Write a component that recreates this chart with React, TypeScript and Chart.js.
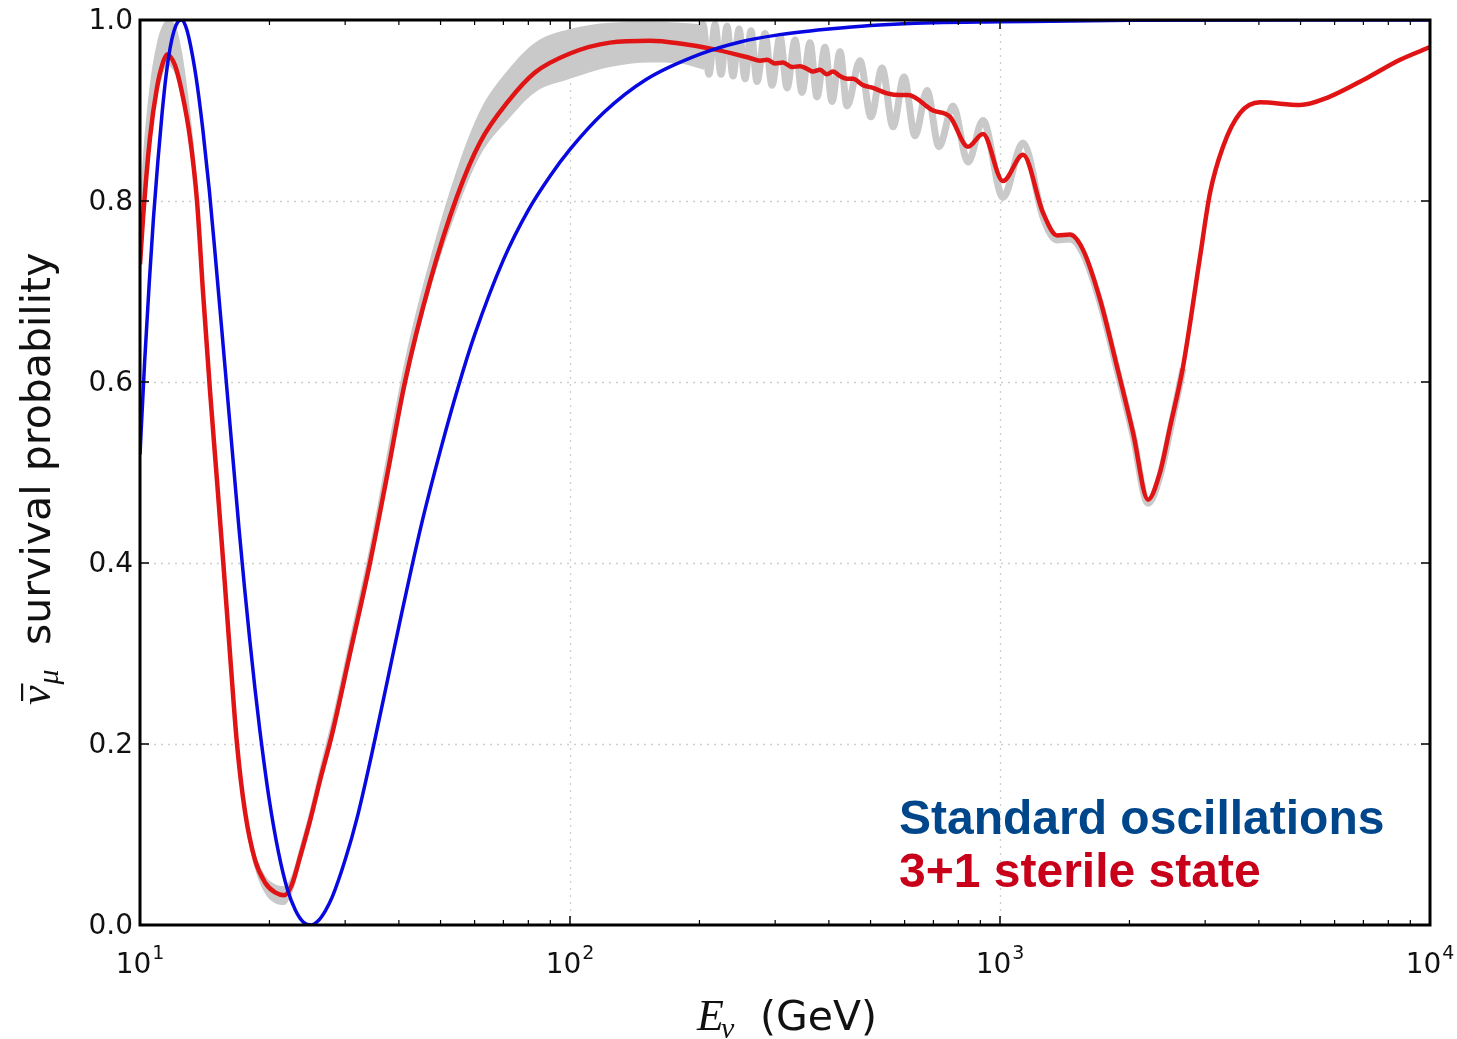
import React, { useEffect, useRef } from "react";
import { Chart, registerables } from "chart.js";

Chart.register(...registerables);

// ---------- data ----------
// Standard oscillations (blue)
const stdEnergy = [10, 10.25, 10.5, 10.75, 11, 11.25, 11.5, 11.75, 12, 12.25, 12.5, 12.75, 13, 13.5, 14, 14.5, 15, 15.5, 16, 16.5, 17, 17.5, 18, 18.5, 19, 20, 21, 22, 23, 24, 25, 26, 27, 28, 30, 32, 35, 38, 40, 45, 50, 55, 60, 70, 80, 90, 100, 120, 150, 200, 250, 300, 400, 500, 700, 1000, 2000, 5000, 10000];
const stdProb = [0.52, 0.622, 0.707, 0.782, 0.843, 0.896, 0.939, 0.969, 0.988, 0.998, 1.0, 0.994, 0.98, 0.937, 0.879, 0.811, 0.734, 0.657, 0.581, 0.508, 0.437, 0.373, 0.315, 0.262, 0.215, 0.137, 0.08, 0.04, 0.016, 0.003, 0.0, 0.005, 0.016, 0.031, 0.072, 0.119, 0.2, 0.28, 0.33, 0.44, 0.525, 0.595, 0.652, 0.735, 0.79, 0.828, 0.857, 0.898, 0.934, 0.962, 0.976, 0.983, 0.99, 0.994, 0.997, 0.998, 0.9996, 1.0, 1.0];

// 3+1 sterile state (red, averaged)
const sterileEnergy = [10, 10.16, 10.55, 10.95, 11.31, 11.56, 12.06, 12.52, 13.07, 13.57, 14.01, 14.55, 15.11, 15.68, 16.19, 16.81, 17.55, 18.51, 19.53, 20.61, 21.63, 22.57, 23.55, 24.85, 26.22, 28.1, 30.78, 34.26, 37.5, 41.33, 47.2, 54.6, 61.8, 71.8, 82.9, 100, 123.9, 153.5, 180.3, 219.8, 262.2, 276.6, 287.2, 299.8, 312.8, 328.4, 342.6, 355.8, 367.4, 381.4, 396, 408.9, 424.6, 440.8, 455.1, 480.2, 506.7, 546.1, 585.4, 611, 698.6, 765.3, 842.5, 912.9, 1016, 1131, 1259, 1357, 1455, 1560, 1709, 1871, 2039, 2209, 2355, 2485, 2665, 2918, 3079, 3301, 3615, 4024, 4986, 5762, 7137, 8518, 10000];
const sterileProb = [0.73, 0.78, 0.87, 0.925, 0.953, 0.962, 0.95, 0.92, 0.87, 0.8, 0.7, 0.59, 0.49, 0.39, 0.3, 0.2, 0.125, 0.072, 0.047, 0.036, 0.033, 0.045, 0.075, 0.115, 0.16, 0.215, 0.3, 0.4, 0.495, 0.6, 0.71, 0.805, 0.865, 0.91, 0.942, 0.963, 0.975, 0.977, 0.974, 0.967, 0.958, 0.955, 0.956, 0.952, 0.953, 0.948, 0.949, 0.946, 0.943, 0.945, 0.94, 0.943, 0.938, 0.935, 0.935, 0.928, 0.925, 0.919, 0.917, 0.917, 0.9, 0.893, 0.86, 0.874, 0.822, 0.851, 0.787, 0.762, 0.763, 0.746, 0.691, 0.617, 0.544, 0.47, 0.5, 0.55, 0.617, 0.738, 0.809, 0.86, 0.897, 0.909, 0.906, 0.914, 0.936, 0.956, 0.97];

// Gray band: envelope of the unaveraged fast oscillations at low energy
const bandEnergy = [10, 10.16, 10.55, 10.95, 11.31, 11.56, 12.06, 12.52, 13.07, 13.57, 14.01, 14.55, 15.11, 15.68, 16.19, 16.81, 17.55, 18.51, 19.53, 20.61, 21.63, 22.57, 23.55, 24.85, 26.22, 28.1, 30.78, 34.26, 37.5, 41.33, 47.2, 54.6, 61.8, 71.8, 82.9, 100, 123.9, 153.5, 180.3, 205];
const bandUpper = [0.8, 0.85, 0.93, 0.975, 0.995, 1.0, 0.995, 0.965, 0.9, 0.82, 0.71, 0.6, 0.5, 0.4, 0.31, 0.21, 0.135, 0.08, 0.055, 0.045, 0.043, 0.056, 0.087, 0.128, 0.175, 0.232, 0.318, 0.42, 0.52, 0.625, 0.735, 0.835, 0.9, 0.945, 0.975, 0.99, 0.997, 0.998, 0.997, 0.995];
const bandLower = [0.7, 0.75, 0.855, 0.912, 0.94, 0.95, 0.94, 0.91, 0.86, 0.79, 0.69, 0.58, 0.48, 0.38, 0.29, 0.19, 0.115, 0.062, 0.035, 0.024, 0.022, 0.035, 0.065, 0.105, 0.15, 0.205, 0.29, 0.39, 0.49, 0.59, 0.7, 0.79, 0.85, 0.89, 0.92, 0.935, 0.948, 0.953, 0.952, 0.945];

// Gray line: unaveraged sterile curve where the wiggles are resolved
const fastEnergy = [200.6, 203.9, 210.5, 217.4, 224.5, 231.8, 239.4, 247.2, 255.3, 263.6, 272.2, 284.1, 295, 307.9, 319.7, 333.7, 346.3, 361.5, 375.3, 391.7, 406.7, 424.6, 440.8, 472.5, 501.2, 531.7, 564, 598.1, 634.4, 676.5, 721.3, 777.7, 842.5, 912.9, 1016, 1131, 1259, 1357, 1455, 1560, 1709, 1871, 2039, 2209, 2355, 2485, 2665];
const fastProb = [0.967, 0.995, 0.94, 0.995, 0.94, 0.993, 0.938, 0.99, 0.935, 0.988, 0.932, 0.985, 0.928, 0.982, 0.925, 0.978, 0.92, 0.975, 0.915, 0.97, 0.91, 0.965, 0.905, 0.955, 0.893, 0.947, 0.882, 0.937, 0.872, 0.922, 0.86, 0.905, 0.843, 0.889, 0.804, 0.864, 0.782, 0.757, 0.758, 0.742, 0.688, 0.614, 0.541, 0.466, 0.496, 0.546, 0.615];

// Axes
const yTickValues = [0, 0.2, 0.4, 0.6, 0.8, 1.0];
const yTickLabels = ["0.0", "0.2", "0.4", "0.6", "0.8", "1.0"];
const xTickValues = [10, 100, 1000, 10000];
const xTickExponents = ["1", "2", "3", "4"];
const xMinorFactors = [2, 3, 4, 5, 6, 7, 8, 9];
const gridYValues = [0.2, 0.4, 0.6, 0.8];
const gridXValues = [100, 1000];

const legendLines = ["Standard oscillations", "3+1 sterile state"];

const W = 1457;
const H = 1039;

const pts = (xs: number[], ys: number[]) => xs.map((x, i) => ({ x, y: ys[i] }));

const overlayPlugin = {
  id: "overlay",
  beforeDatasetsDraw(chart: any) {
    const { ctx, chartArea: a, scales } = chart;
    const xs = scales.x;
    const ys = scales.y;
    ctx.save();
    ctx.strokeStyle = "#cdcdcd";
    ctx.lineWidth = 1.3;
    ctx.setLineDash([2, 5]);
    for (const v of gridYValues) {
      const y = Math.round(ys.getPixelForValue(v)) + 0.5;
      ctx.beginPath();
      ctx.moveTo(a.left, y);
      ctx.lineTo(a.right, y);
      ctx.stroke();
    }
    for (const v of gridXValues) {
      const x = Math.round(xs.getPixelForValue(v)) + 0.5;
      ctx.beginPath();
      ctx.moveTo(x, a.top);
      ctx.lineTo(x, a.bottom);
      ctx.stroke();
    }
    ctx.restore();
  },
  afterDatasetsDraw(chart: any) {
    const { ctx, chartArea: a, scales } = chart;
    const xs = scales.x;
    const ys = scales.y;
    ctx.save();
    ctx.setLineDash([]);
    // ticks
    ctx.strokeStyle = "#000";
    ctx.lineWidth = 1.5;
    const major = 9;
    const minor = 5;
    for (const v of yTickValues) {
      const y = ys.getPixelForValue(v);
      ctx.beginPath();
      ctx.moveTo(a.left, y);
      ctx.lineTo(a.left + major, y);
      ctx.moveTo(a.right, y);
      ctx.lineTo(a.right - major, y);
      ctx.stroke();
    }
    for (const v of xTickValues) {
      const x = xs.getPixelForValue(v);
      ctx.beginPath();
      ctx.moveTo(x, a.bottom);
      ctx.lineTo(x, a.bottom - major);
      ctx.moveTo(x, a.top);
      ctx.lineTo(x, a.top + major);
      ctx.stroke();
    }
    ctx.lineWidth = 1.2;
    for (const d of xTickValues.slice(0, 3)) {
      for (const f of xMinorFactors) {
        const x = xs.getPixelForValue(d * f);
        ctx.beginPath();
        ctx.moveTo(x, a.bottom);
        ctx.lineTo(x, a.bottom - minor);
        ctx.moveTo(x, a.top);
        ctx.lineTo(x, a.top + minor);
        ctx.stroke();
      }
    }
    // frame
    ctx.lineWidth = 3;
    ctx.strokeRect(a.left, a.top, a.right - a.left, a.bottom - a.top);

    // y tick labels
    ctx.fillStyle = "#111";
    ctx.font = '28px "DejaVu Sans"';
    ctx.textAlign = "right";
    ctx.textBaseline = "middle";
    yTickValues.forEach((v, i) => {
      ctx.fillText(yTickLabels[i], a.left - 7, ys.getPixelForValue(v) + 2);
    });

    // x tick labels 10^n
    ctx.textAlign = "left";
    ctx.textBaseline = "alphabetic";
    xTickValues.forEach((v, i) => {
      const x = xs.getPixelForValue(v);
      ctx.font = '28px "DejaVu Sans"';
      const wb = ctx.measureText("10").width;
      ctx.font = '19px "DejaVu Sans"';
      const we = ctx.measureText(xTickExponents[i]).width;
      const start = x - (wb + we + 1) / 2;
      ctx.font = '28px "DejaVu Sans"';
      ctx.fillText("10", start, a.bottom + 48);
      ctx.font = '19px "DejaVu Sans"';
      ctx.fillText(xTickExponents[i], start + wb + 1, a.bottom + 34);
    });

    // x axis title: E_ν (GeV)
    ctx.font = 'italic 44px "Liberation Serif"';
    ctx.fillText("E", 697, 1030);
    const wE = ctx.measureText("E").width;
    ctx.font = 'italic 30px "Liberation Serif"';
    ctx.fillText("ν", 697 + wE - 3, 1038);
    ctx.font = '41px "DejaVu Sans"';
    ctx.fillText("(GeV)", 760, 1030);

    // y axis title: ν̄_μ survival probability (rotated)
    ctx.save();
    ctx.translate(50, 705);
    ctx.rotate(-Math.PI / 2);
    ctx.font = 'italic 44px "Liberation Serif"';
    ctx.fillText("ν", 0, 0);
    const wn = ctx.measureText("ν").width;
    ctx.fillRect(4, -29, wn - 2, 2.2);
    ctx.font = 'italic 30px "Liberation Serif"';
    ctx.fillText("μ", wn + 1, 8);
    ctx.font = '41px "DejaVu Sans"';
    ctx.fillText("survival probability", 60, 0);
    ctx.restore();

    // legend text
    ctx.font = 'bold 48px "Liberation Sans"';
    ctx.fillStyle = "#00468b";
    ctx.fillText(legendLines[0], 899, 834);
    ctx.fillStyle = "#c8001a";
    ctx.fillText(legendLines[1], 899, 887);
    ctx.restore();
  },
};

export default function App() {
  const ref = useRef<HTMLCanvasElement>(null);
  useEffect(() => {
    const canvas = ref.current;
    if (!canvas) return;
    const gray = "#c9c9c9";
    const chart = new Chart(canvas, {
      type: "line",
      data: {
        datasets: [
          {
            label: "Standard oscillations",
            data: pts(stdEnergy, stdProb),
            borderColor: "#0808e0",
            borderWidth: 3.5,
            pointRadius: 0,
            cubicInterpolationMode: "monotone",
            order: 0,
            fill: false,
          },
          {
            label: "3+1 sterile state",
            data: pts(sterileEnergy, sterileProb),
            borderColor: "#e01414",
            borderWidth: 4.5,
            pointRadius: 0,
            cubicInterpolationMode: "monotone",
            order: 1,
            fill: false,
          },
          {
            label: "fast",
            data: pts(fastEnergy, fastProb),
            borderColor: gray,
            borderWidth: 7,
            pointRadius: 0,
            cubicInterpolationMode: "monotone",
            order: 2,
            fill: false,
          },
          {
            label: "band lower",
            data: pts(bandEnergy, bandLower),
            borderColor: gray,
            borderWidth: 0,
            pointRadius: 0,
            cubicInterpolationMode: "monotone",
            order: 3,
            fill: false,
          },
          {
            label: "band upper",
            data: pts(bandEnergy, bandUpper),
            borderColor: gray,
            backgroundColor: gray,
            borderWidth: 0,
            pointRadius: 0,
            cubicInterpolationMode: "monotone",
            order: 4,
            fill: 3,
          },
        ],
      } as any,
      options: {
        animation: false,
        responsive: false,
        devicePixelRatio: 1,
        events: [],
        layout: { padding: { left: 140, right: 27, top: 20, bottom: 114 } },
        plugins: { legend: { display: false }, tooltip: { enabled: false } },
        scales: {
          x: { type: "logarithmic", min: 10, max: 10000, display: false },
          y: { type: "linear", min: 0, max: 1, display: false },
        },
      } as any,
      plugins: [overlayPlugin],
    });
    return () => chart.destroy();
  }, []);
  return (
    <div style={{ position: "absolute", left: 0, top: 0, width: W, height: H, background: "#fff" }}>
      <canvas ref={ref} width={W} height={H} style={{ display: "block", width: W, height: H }} />
    </div>
  );
}
